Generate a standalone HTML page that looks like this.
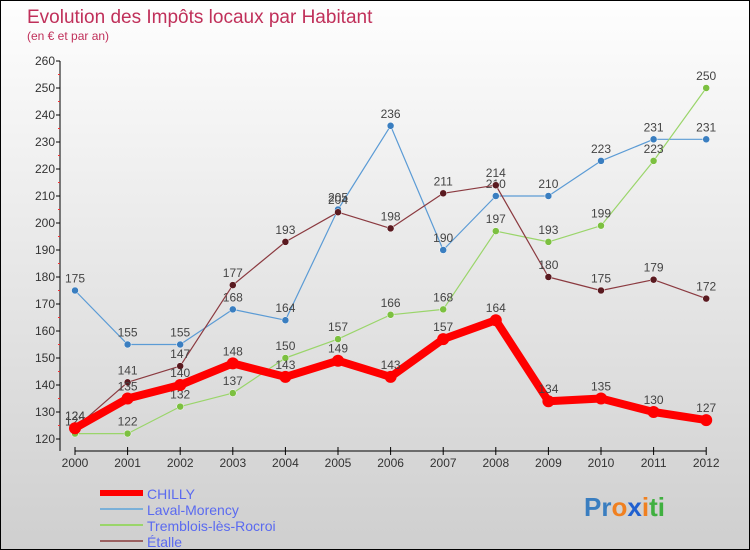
<!DOCTYPE html>
<html><head><meta charset="utf-8"><style>
body{margin:0}
#c{width:750px;height:550px;position:relative;box-sizing:border-box;border:1px solid #000;background:linear-gradient(#fefefe,#cfcfcf);font-family:"Liberation Sans",sans-serif;overflow:hidden}
</style></head><body>
<div id="c">
<svg id="s" width="748" height="548"></svg>
</div>
<script>
const years=["2000","2001","2002","2003","2004","2005","2006","2007","2008","2009","2010","2011","2012"];
const chilly=[124,135,140,148,143,149,143,157,164,134,135,130,127];
const laval=[175,155,155,168,164,205,236,190,210,210,223,231,231];
const tremblois=[122,122,132,137,150,157,166,168,197,193,199,223,250];
const etalle=[124,141,147,177,193,204,198,211,214,180,175,179,172];
const yTicks=[120,130,140,150,160,170,180,190,200,210,220,230,240,250,260];
const seriesNames=["CHILLY","Laval-Morency","Tremblois-lès-Rocroi","Étalle"];
const NS="http://www.w3.org/2000/svg";
const s=document.getElementById('s');
const X=i=>74+i*52.6, Y=v=>438-(v-120)*2.7;
function el(t,a,p){const e=document.createElementNS(NS,t);for(const k in a)e.setAttribute(k,a[k]);(p||s).appendChild(e);return e;}
let t=el('text',{x:26,y:22,fill:'#c0305a','font-size':19});t.textContent='Evolution des Impôts locaux par Habitant';

t=el('text',{x:26,y:39,fill:'#c0305a','font-size':12});t.textContent='(en € et par an)';

let ax=el('line',{x1:59,y1:Y(260),x2:59,y2:450,stroke:'#000'});

yTicks.forEach(v=>{el('line',{x1:55,x2:59,y1:Y(v),y2:Y(v),stroke:'#000'});
 el('line',{x1:57,x2:59,y1:Y(v+5),y2:Y(v+5),stroke:v<260?'#e33':'none'});
 const l=el('text',{x:54,y:Y(v)+4,'text-anchor':'end','font-size':12,fill:'#333'});l.textContent=v;
 });
ax=el('line',{x1:X(0),y1:450,x2:X(12),y2:450,stroke:'#000'});

years.forEach((y,i)=>{el('line',{x1:X(i),x2:X(i),y1:446,y2:454,stroke:'#000'});
 const l=el('text',{x:X(i),y:466,'text-anchor':'middle','font-size':12,fill:'#333'});l.textContent=y;
 });
const ser=[[laval,'#5b9bd5','#3a7ec0',1.2,3.5,'laval-line'],[tremblois,'#9ad56a','#7cc040',1.2,3.5,'tremblois-line'],[etalle,'#8b3a40','#5a1a20',1.2,3.5,'etalle-line'],[chilly,'#f00','#f00',8,6,'chilly-line']];
ser.forEach(([d,c,m,w,r,n])=>{
 const p=el('polyline',{points:d.map((v,i)=>X(i)+','+Y(v)).join(' '),fill:'none',stroke:c,'stroke-width':w,'stroke-linejoin':'round'});
 
 d.forEach((v,i)=>{const pt=el('circle',{cx:X(i),cy:Y(v),r:r,fill:m,stroke:w>2?'none':'#fff','stroke-width':0.5});
  
  const l=el('text',{x:X(i),y:Y(v)-8,'text-anchor':'middle','font-size':12,fill:'#444'});l.textContent=v;
  });
});
const lc=['#f00','#7ab0d8','#9ad56a','#9a6060'],lw=[6,2,2,2];
seriesNames.forEach((nm,i)=>{const y=492+i*16;
 const g=el('g',{});
 el('line',{x1:99,x2:142,y1:y,y2:y,stroke:lc[i],'stroke-width':lw[i]},g);
 const l=el('text',{x:146,y:y+6,'font-size':14,fill:'#5a6af0'},g);l.textContent=nm;});
t=el('text',{x:583,y:515,'font-size':26,'font-weight':'bold',fill:'#3a7ec0'});
t.innerHTML='<tspan fill="#3a7ec0">Pr</tspan><tspan fill="#f08020">o</tspan><tspan fill="#2060d0">x</tspan><tspan fill="#f08020">i</tspan><tspan fill="#40b040">ti</tspan>';

</script>
</body></html>
